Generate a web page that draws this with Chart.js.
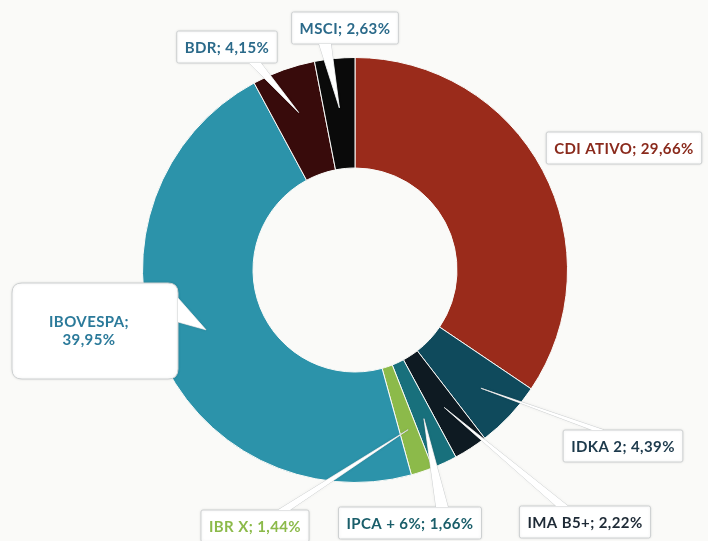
<!doctype html>
<html>
<head>
<title>Carteira</title>
<script src="https://cdn.jsdelivr.net/npm/chart.js@4.4.0/dist/chart.umd.min.js"></script>
<style>
html, body { margin: 0; padding: 0; background: #fafaf8; }
#container { width: 708px; height: 541px; }
</style>
</head>
<body>
	<div id="container">
		<canvas id="canvas"></canvas>
	</div>

	<script>
		// data
		var labels = ['CDI ATIVO', 'IDKA 2', 'IMA B5+', 'IPCA + 6%', 'IBR X', 'IBOVESPA', 'BDR', 'MSCI'];
		var values = [29.66, 4.39, 2.22, 1.66, 1.44, 39.95, 4.15, 2.63];
		var sliceColors = ['#9a2b1b', '#0f4a5c', '#0e1a22', '#18707c', '#8cba4a', '#2c93aa', '#380b0b', '#0a0a0a'];
		var textColors = ['#8a2a1c', '#1d3a4c', '#1e2a36', '#1a5e6a', '#8cba4a', '#2b7a9a', '#2b6a8a', '#2b6a8a'];

		function pct(v) {
			return v.toFixed(2).replace('.', ',') + '%';
		}

		// callout layout: box centre, wedge base on box edge, tip depth in ring
		var callouts = [
			{ cx: 624, cy: 148, lines: 1 },
			{ cx: 623, cy: 446, base: { x: 598, y: 430 }, side: 'h', frac: 0.64 },
			{ cx: 585, cy: 522, base: { x: 562, y: 506 }, side: 'h', frac: 0.56 },
			{ cx: 410, cy: 523, base: { x: 442, y: 507 }, side: 'h', frac: 0.56 },
			{ cx: 255, cy: 526, base: { x: 284, y: 510 }, side: 'h', frac: 0.6 },
			{ cx: 95, cy: 331, lines: 2, w: 166, h: 96, base: { x: 178, y: 310 }, side: 'v', frac: 0.53 },
			{ cx: 227, cy: 47, base: { x: 255, y: 63 }, side: 'h', frac: 0.59 },
			{ cx: 345, cy: 28, base: { x: 325, y: 44 }, side: 'h', frac: 0.55 }
		];

		function roundRect(ctx, x, y, w, h, r) {
			ctx.beginPath();
			ctx.moveTo(x + r, y);
			ctx.lineTo(x + w - r, y);
			ctx.quadraticCurveTo(x + w, y, x + w, y + r);
			ctx.lineTo(x + w, y + h - r);
			ctx.quadraticCurveTo(x + w, y + h, x + w - r, y + h);
			ctx.lineTo(x + r, y + h);
			ctx.quadraticCurveTo(x, y + h, x, y + h - r);
			ctx.lineTo(x, y + r);
			ctx.quadraticCurveTo(x, y, x + r, y);
			ctx.closePath();
		}

		var calloutPlugin = {
			id: 'callouts',
			afterDatasetsDraw: function(chart) {
				var ctx = chart.ctx;
				var arcs = chart.getDatasetMeta(0).data;
				ctx.save();
				ctx.font = 'bold 15px Lato';
				ctx.letterSpacing = '0.4px';
				ctx.textAlign = 'center';
				ctx.textBaseline = 'middle';
				arcs.forEach(function(arc, i) {
					var c = callouts[i];
					var p = arc.getProps(['x', 'y', 'startAngle', 'endAngle', 'innerRadius', 'outerRadius'], true);
					var text = c.lines === 2 ? [labels[i] + ';', pct(values[i])] : [labels[i] + '; ' + pct(values[i])];
					var w = c.w || ctx.measureText(text[0]).width + 16;
					var h = c.h || 32;
					var bx = c.cx - w / 2, by = c.cy - h / 2;
					var r = c.lines === 2 ? 10 : 2;

					var wedge = null;
					if (c.base) {
						var mid = (p.startAngle + p.endAngle) / 2;
						var rr = p.innerRadius + (p.outerRadius - p.innerRadius) * c.frac;
						var tx = p.x + Math.cos(mid) * rr, ty = p.y + Math.sin(mid) * rr;
						var hw = c.lines === 2 ? 12 : 6;
						wedge = c.side === 'h'
							? [[c.base.x - hw, c.base.y], [tx, ty], [c.base.x + hw, c.base.y]]
							: [[c.base.x, c.base.y - hw], [tx, ty], [c.base.x, c.base.y + hw]];
					}

					ctx.shadowColor = 'rgba(0,0,0,0.10)';
					ctx.shadowBlur = 3;
					ctx.strokeStyle = '#cdd0d1';
					ctx.lineWidth = 1;
					ctx.fillStyle = '#ffffff';
					if (wedge) {
						ctx.beginPath();
						ctx.moveTo(wedge[0][0], wedge[0][1]);
						ctx.lineTo(wedge[1][0], wedge[1][1]);
						ctx.lineTo(wedge[2][0], wedge[2][1]);
						ctx.stroke();
					}
					roundRect(ctx, bx, by, w, h, r);
					ctx.fill();
					ctx.stroke();
					ctx.shadowColor = 'transparent';
					if (wedge) {
						ctx.beginPath();
						ctx.moveTo(wedge[0][0], wedge[0][1]);
						ctx.lineTo(wedge[1][0], wedge[1][1]);
						ctx.lineTo(wedge[2][0], wedge[2][1]);
						ctx.closePath();
						ctx.fill();
					}

					ctx.fillStyle = textColors[i];
					if (text.length === 2) {
						ctx.fillText(text[0], c.cx - 6, c.cy - 9);
						ctx.fillText(text[1], c.cx - 6, c.cy + 9);
					} else {
						ctx.fillText(text[0], c.cx, c.cy + 1);
					}
				});
				ctx.restore();
			}
		};

		var ctx = document.getElementById('canvas').getContext('2d');
		window.myDonut = new Chart(ctx, {
			type: 'doughnut',
			data: {
				labels: labels,
				datasets: [{
					data: values,
					backgroundColor: sliceColors,
					borderColor: '#fafaf8',
					borderWidth: 1
				}]
			},
			options: {
				responsive: true,
				maintainAspectRatio: false,
				animation: false,
				cutout: '48%',
				layout: {
					padding: { left: 142, right: 140, top: 57, bottom: 58 }
				},
				plugins: {
					legend: { display: false },
					tooltip: { enabled: false }
				}
			},
			plugins: [calloutPlugin]
		});
	</script>
</body>
</html>
